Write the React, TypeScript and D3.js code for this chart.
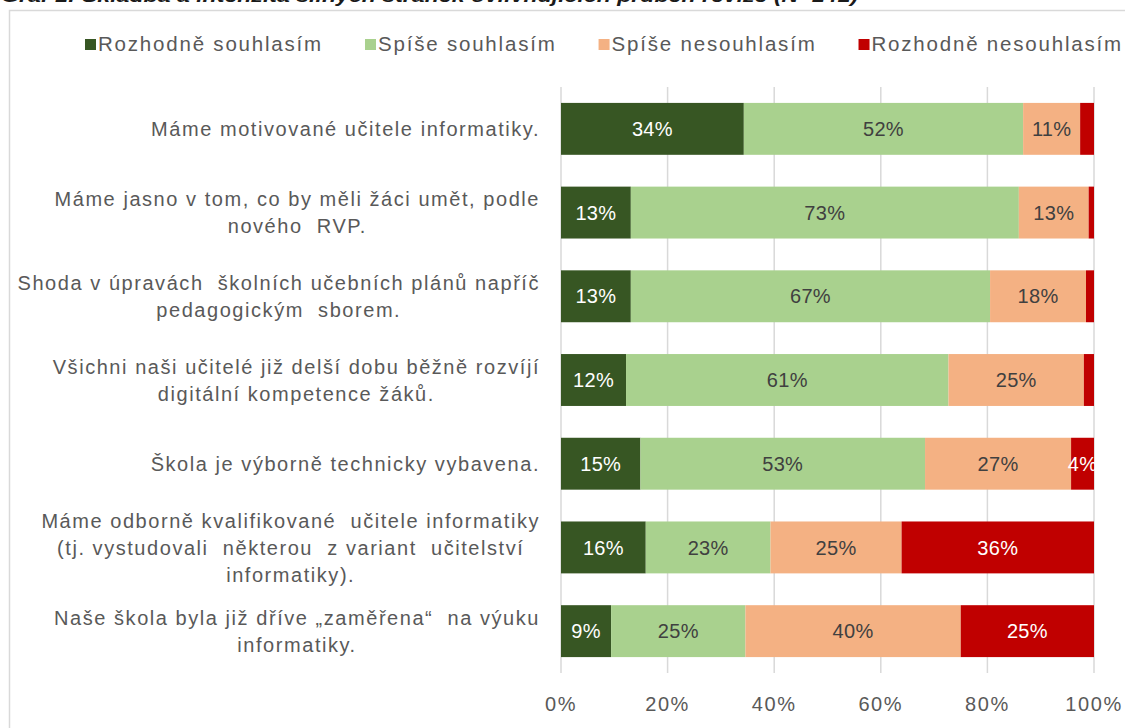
import * as d3 from "d3";
import React, { useEffect, useRef } from "react";

// kategorie (řádky), po řádcích textu
const categories: string[][] = [
  ["Máme motivované učitele informatiky."],
  ["Máme jasno v tom, co by měli žáci umět, podle", "nového  RVP."],
  ["Shoda v úpravách  školních učebních plánů napříč", "pedagogickým  sborem."],
  ["Všichni naši učitelé již delší dobu běžně rozvíjí", "digitální kompetence žáků."],
  ["Škola je výborně technicky vybavena."],
  ["Máme odborně kvalifikované  učitele informatiky", "(tj. vystudovali  některou  z variant  učitelství", "informatiky)."],
  ["Naše škola byla již dříve „zaměřena“  na výuku", "informatiky."],
];

const seriesNames = ["Rozhodně souhlasím", "Spíše souhlasím", "Spíše nesouhlasím", "Rozhodně nesouhlasím"];
const seriesColors = ["#375623", "#a9d18e", "#f4b183", "#c00000"];
const labelColors = ["#ffffff", "#404040", "#404040", "#ffffff"];

const stronglyAgree = [34.3, 13.1, 13.1, 12.2, 14.9, 15.9, 9.4];
const ratherAgree = [52.4, 72.8, 67.4, 60.5, 53.4, 23.4, 25.2];
const ratherDisagree = [10.7, 13.1, 18.0, 25.4, 27.4, 24.6, 40.4];
const stronglyDisagree = [2.6, 1.0, 1.5, 1.9, 4.3, 36.1, 25.0];

const xTicks = [0, 20, 40, 60, 80, 100];

const title = "Graf 1:  Skladba a intenzita silných stránek ovlivňujících průběh revize (N=141)";

const W = 1125;
const H = 728;
const FONT = "'Liberation Sans', Arial, sans-serif";

export default function App() {
  const svgRef = useRef<SVGSVGElement>(null);

  useEffect(() => {
    const svg = d3.select(svgRef.current);
    svg.selectAll("*").remove();

    const rows = categories.map((c, i) => ({
      key: String(i),
      [seriesNames[0]]: stronglyAgree[i],
      [seriesNames[1]]: ratherAgree[i],
      [seriesNames[2]]: ratherDisagree[i],
      [seriesNames[3]]: stronglyDisagree[i],
    }));

    const x = d3.scaleLinear().domain([0, 100]).range([561, 1094]);
    const y = d3.scaleBand<string>()
      .domain(rows.map((r) => r.key))
      .range([87, 673])
      .paddingInner(0.38)
      .paddingOuter(0.19);

    // rámeček
    svg.append("rect")
      .attr("x", 9.5).attr("y", 10.5)
      .attr("width", W).attr("height", H)
      .attr("fill", "#fff")
      .attr("stroke", "#d9d9d9").attr("stroke-width", 1.5);

    // titulek (v originále oříznutý nahoře)
    svg.append("text")
      .attr("x", 1).attr("y", 2)
      .attr("textLength", 857).attr("lengthAdjust", "spacingAndGlyphs")
      .style("font-family", FONT).style("font-style", "italic").style("font-weight", "bold")
      .style("font-size", "19px").style("fill", "#1a1a1a")
      .text(title);

    // mřížka
    svg.append("g").selectAll("line")
      .data(xTicks).enter().append("line")
      .attr("x1", (d) => x(d)).attr("x2", (d) => x(d))
      .attr("y1", 87).attr("y2", 673)
      .attr("stroke", "#d9d9d9").attr("stroke-width", 1.5);

    // popisky osy x
    svg.append("g").selectAll("text")
      .data(xTicks).enter().append("text")
      .attr("x", (d) => x(d)).attr("y", 711)
      .attr("text-anchor", "middle")
      .style("font-family", FONT).style("font-size", "20px")
      .style("letter-spacing", "1.6px").style("fill", "#595959")
      .text((d) => d + "%");

    const stack = d3.stack<any>().keys(seriesNames);
    const layers = stack(rows);

    layers.forEach((layer, si) => {
      const g = svg.append("g");
      g.selectAll("rect")
        .data(layer).enter().append("rect")
        .attr("x", (d) => x(d[0]))
        .attr("y", (d) => y(d.data.key))
        .attr("width", (d) => x(d[1]) - x(d[0]))
        .attr("height", y.bandwidth())
        .attr("fill", seriesColors[si]);
      g.selectAll("text")
        .data(layer.filter((d) => d[1] - d[0] >= 3.5)).enter().append("text")
        .attr("x", (d) => (x(d[0]) + x(d[1])) / 2)
        .attr("y", (d) => y(d.data.key) + y.bandwidth() / 2)
        .attr("dy", "0.36em")
        .attr("text-anchor", "middle")
        .style("font-family", FONT).style("font-size", "20px")
        .style("letter-spacing", "0.3px")
        .style("fill", labelColors[si])
        .text((d) => Math.round(d[1] - d[0]) + "%");
    });

    // popisky kategorií - blok zarovnaný vpravo, řádky na střed
    const lineH = 27;
    rows.forEach((r, i) => {
      const lines = categories[i];
      const cy = y(r.key) + y.bandwidth() / 2;
      const g = svg.append("g");
      const texts = g.selectAll("text")
        .data(lines).enter().append("text")
        .attr("y", (_, li) => cy + (li - (lines.length - 1) / 2) * lineH)
        .attr("dy", "0.36em")
        .attr("text-anchor", "middle")
        .style("font-family", FONT).style("font-size", "20px")
        .style("letter-spacing", "1.55px").style("fill", "#595959")
        .style("white-space", "pre")
        .text((d) => d);
      let maxW = 0;
      texts.each(function () {
        maxW = Math.max(maxW, (this as SVGTextElement).getComputedTextLength());
      });
      texts.attr("x", 540 - maxW / 2);
    });

    // legenda
    const legend = svg.append("g");
    let lx = 85;
    seriesNames.forEach((name, i) => {
      legend.append("rect")
        .attr("x", lx).attr("y", 39).attr("width", 11).attr("height", 11)
        .attr("fill", seriesColors[i]);
      const t = legend.append("text")
        .attr("x", lx + 13).attr("y", 44).attr("dy", "0.36em")
        .style("font-family", FONT).style("font-size", "20.5px")
        .style("letter-spacing", "1.8px").style("fill", "#595959")
        .text(name);
      lx += 13 + (t.node() as SVGTextElement).getComputedTextLength() + 42;
    });
  }, []);

  return (
    <svg
      ref={svgRef}
      width={W}
      height={H}
      style={{ position: "absolute", left: 0, top: 0, background: "#fff" }}
    />
  );
}
